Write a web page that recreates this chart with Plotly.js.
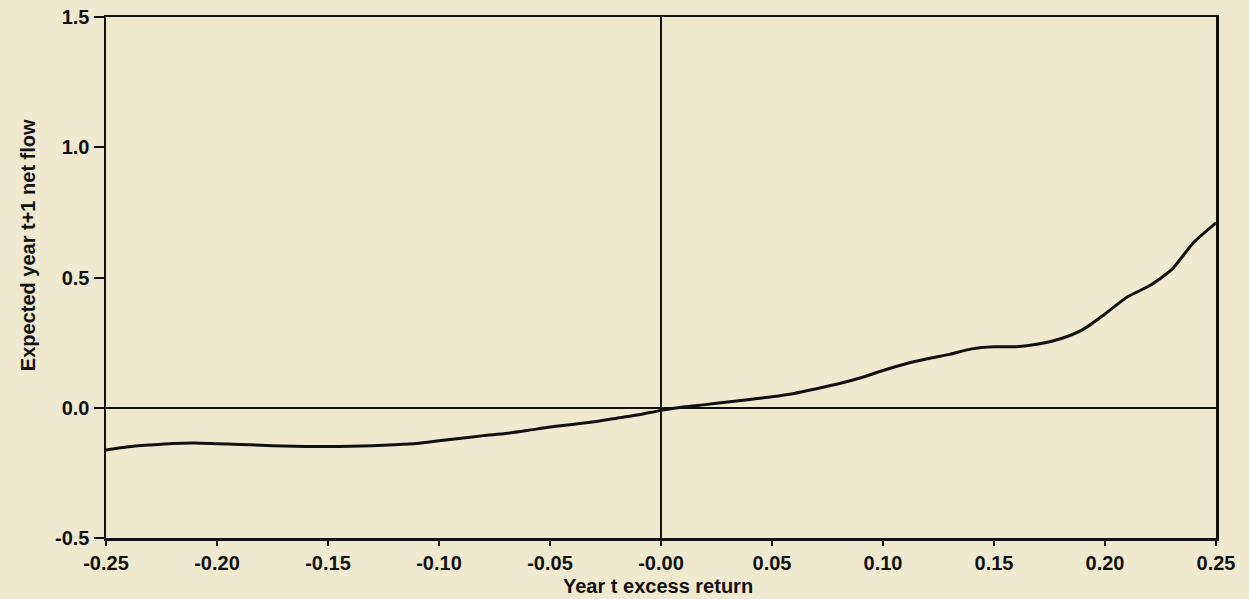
<!DOCTYPE html>
<html>
<head>
<meta charset="utf-8">
<script src="https://cdn.plot.ly/plotly-3.0.1.min.js"></script>
<style>html,body{margin:0;padding:0;background:#efeacf;}</style>
</head>
<body>
<div id="chart" style="width:1249px;height:599px;"></div>
<script>
const excessReturn = [-0.25,-0.24,-0.23,-0.22,-0.21,-0.20,-0.19,-0.18,-0.17,-0.16,-0.15,-0.14,-0.13,-0.12,-0.11,-0.10,-0.09,-0.08,-0.07,-0.06,-0.05,-0.04,-0.03,-0.02,-0.01,0.00,0.01,0.02,0.03,0.04,0.05,0.06,0.07,0.08,0.09,0.10,0.11,0.12,0.13,0.14,0.15,0.16,0.17,0.18,0.19,0.20,0.21,0.22,0.23,0.24,0.25];
const expectedFlow = [-0.162,-0.150,-0.143,-0.137,-0.135,-0.138,-0.141,-0.144,-0.147,-0.149,-0.149,-0.148,-0.146,-0.142,-0.137,-0.127,-0.117,-0.107,-0.099,-0.087,-0.074,-0.064,-0.054,-0.040,-0.027,-0.010,0.003,0.012,0.022,0.032,0.042,0.055,0.073,0.092,0.115,0.143,0.168,0.188,0.205,0.226,0.234,0.234,0.245,0.265,0.300,0.360,0.425,0.468,0.530,0.635,0.710];
const xTickVals = [-0.25,-0.20,-0.15,-0.10,-0.05,0,0.05,0.10,0.15,0.20,0.25];
const xTickText = ["-0.25","-0.20","-0.15","-0.10","-0.05","-0.00","0.05","0.10","0.15","0.20","0.25"];
const yTickVals = [-0.5,0,0.5,1.0,1.5];
const yTickText = ["-0.5","0.0","0.5","1.0","1.5"];
const xTitle = 'Year t excess return';
const yTitle = 'Expected year t+1 net flow';

const trace = {
  x: excessReturn, y: expectedFlow, type: 'scatter', mode: 'lines',
  line: {color: '#111', width: 3, shape: 'spline', smoothing: 0.6},
  hoverinfo: 'skip'
};
const fam = '"Liberation Sans", Arial, sans-serif';
const layout = {
  width: 1249, height: 599,
  margin: {l: 106, r: 33, t: 17, b: 61},
  paper_bgcolor: '#efeacf', plot_bgcolor: '#efeacf',
  showlegend: false,
  font: {family: fam, size: 20, color: '#111', weight: 'bold'},
  xaxis: {
    range: [-0.25, 0.25], tickvals: xTickVals, ticktext: xTickText,
    ticks: 'outside', ticklen: 5, tickwidth: 2, tickcolor: '#111',
    showline: true, mirror: true, linecolor: '#111', linewidth: 2.5,
    showgrid: false, zeroline: true, zerolinecolor: '#111', zerolinewidth: 2,
    tickfont: {family: fam, size: 20, color: '#111', weight: 'bold'}
  },
  yaxis: {
    range: [-0.5, 1.5], tickvals: yTickVals, ticktext: yTickText,
    ticks: 'outside', ticklen: 10, tickwidth: 2, tickcolor: '#111',
    showline: true, mirror: true, linecolor: '#111', linewidth: 2.5,
    showgrid: false, zeroline: true, zerolinecolor: '#111', zerolinewidth: 2,
    tickfont: {family: fam, size: 20, color: '#111', weight: 'bold'}
  },
  annotations: [{
    text: yTitle, xref: 'paper', yref: 'paper', x: -0.0703, y: 0.562,
    xanchor: 'center', yanchor: 'middle', textangle: -90, showarrow: false,
    font: {family: fam, size: 20, color: '#111', weight: 'bold'}
  }, {
    text: xTitle, xref: 'paper', yref: 'paper', x: 0.497, y: -0.092,
    xanchor: 'center', yanchor: 'middle', showarrow: false,
    font: {family: fam, size: 20, color: '#111', weight: 'bold'}
  }]
};
Plotly.newPlot('chart', [trace], layout, {displayModeBar: false, staticPlot: true});
</script>
</body>
</html>
